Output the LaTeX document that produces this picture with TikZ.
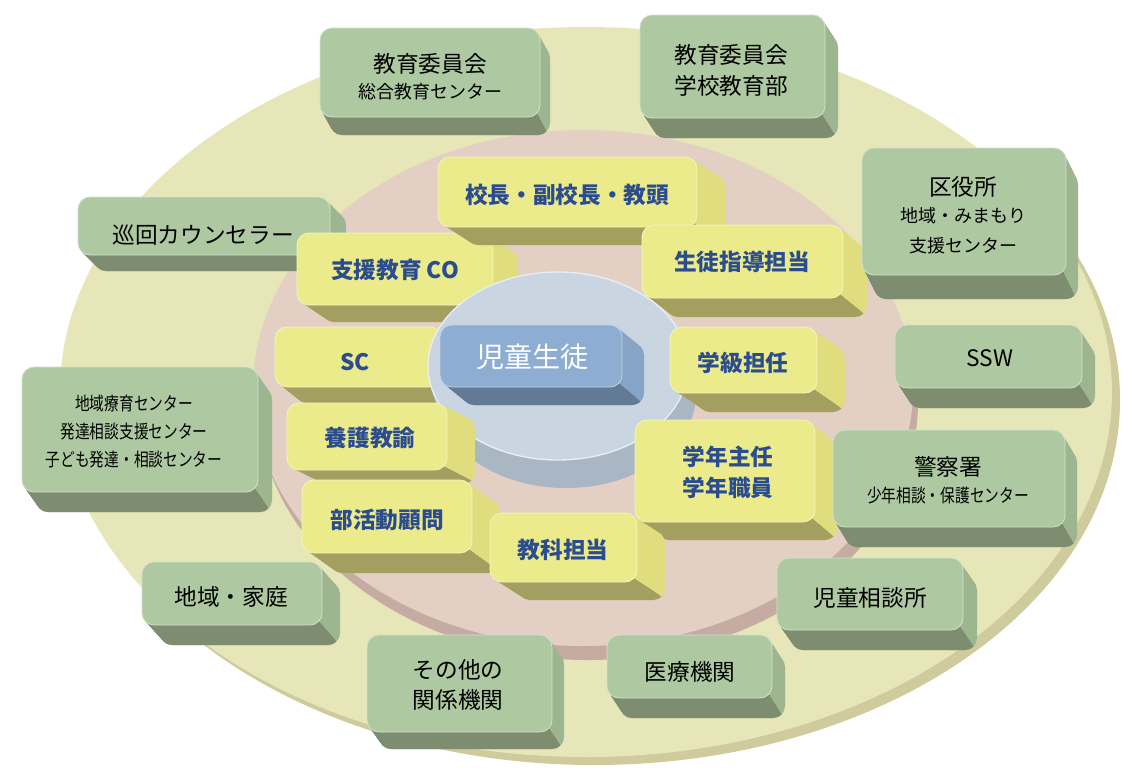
\documentclass[tikz,border=0pt]{standalone}
\usepackage{fontspec}
\setmainfont{Noto Sans CJK JP}
\newfontfamily\condjp[FakeStretch=0.8]{Noto Sans CJK JP}
\definecolor{outerface}{HTML}{E6E6B8}
\definecolor{outerrim}{HTML}{CFCB9C}
\definecolor{pinkface}{HTML}{E3CFC4}
\definecolor{pinkrim}{HTML}{C5ABA2}
\definecolor{cylface}{HTML}{C9D5E1}
\definecolor{cylside}{HTML}{A9B6C3}
\definecolor{gface}{HTML}{AEC9A1}
\definecolor{gmid}{HTML}{9DB690}
\definecolor{gside}{HTML}{7E8D6F}
\definecolor{yface}{HTML}{EBEB8B}
\definecolor{ymid}{HTML}{DFDD7E}
\definecolor{yside}{HTML}{A29F61}
\definecolor{bface}{HTML}{8DADD2}
\definecolor{bmid}{HTML}{86A5C6}
\definecolor{bside}{HTML}{627A95}
\definecolor{ytext}{HTML}{2B4D8F}
% #1 x1, #2 y1, #3 x2, #4 y2, #5 dx, #6 dy, #7 colour prefix
\newcommand{\mykey}[7]{%
  \foreach \i in {0,...,12}{\fill[#7mid, rounded corners=9pt] ({#1+\i*#5/12},{#2+\i*#6/12}) rectangle ({#3+\i*#5/12},{#4+\i*#6/12});}
  \begin{scope}
    \clip ({#1-100},{#4-3.5}) -- ({#3-3.5},{#4-3.5}) -- ({#3-3.5+3*#5},{#4-3.5+3*#6}) -- ({#1-100},{#4-3.5+3*#6}) -- cycle;
    \foreach \i in {0,...,12}{\fill[#7side, rounded corners=9pt] ({#1+\i*#5/12},{#2+\i*#6/12}) rectangle ({#3+\i*#5/12},{#4+\i*#6/12});}
  \end{scope}
  \fill[#7face, draw=#7face!55!white, line width=0.6pt, rounded corners=9pt] (#1,#2) rectangle (#3,#4);
}
\begin{document}
\begin{tikzpicture}[x=0.75pt,y=-0.75pt,
  gbig/.style={text=black, font=\fontsize{17}{20}\selectfont, inner sep=0pt},
  gmidtxt/.style={text=black, font=\fontsize{13.5}{16}\selectfont, inner sep=0pt},
  gsmall/.style={text=black, font=\condjp\fontsize{13.8}{16}\selectfont, inner sep=0pt},
  ytxt/.style={text=ytext, font=\bfseries\fontsize{17}{20}\selectfont, inner sep=0pt},
  btxt/.style={text=white, font=\fontsize{21}{24}\selectfont, inner sep=0pt}]
\useasboundingbox (0,0) rectangle (1123,769);
% outer disk
\fill[outerrim] (594,400) ellipse [x radius=394.5pt, y radius=273.75pt];
\fill[outerface] (586,392) ellipse [x radius=394.5pt, y radius=273.75pt];
% pink disk
\fill[pinkrim] (588,402) ellipse [x radius=247.5pt, y radius=193.5pt];
\fill[pinkface] (583,388) ellipse [x radius=247.5pt, y radius=193.5pt];
% keys behind the cylinder
\mykey{78}{197}{330}{255}{16}{16}{g}
\node[gbig] (junkai) at (203,235) {巡回カウンセラー};
\mykey{297}{233}{493}{305}{25}{17}{y}
\node[ytxt] (shien) at (395,270) {支援教育 CO};
\mykey{275}{327}{442}{387}{20}{16}{y}
\node[ytxt] (sc) at (355,362) {SC};
% cylinder
\foreach \i in {0,...,14}{\fill[cylside] ({558+\i*8/14},{366+\i*28/14}) ellipse [x radius=97.5pt, y radius=70.5pt];}
\fill[cylface, draw=white!60!cylface, line width=1pt] (558,366) ellipse [x radius=97.5pt, y radius=70.5pt];
% centre key
\mykey{440}{325}{622}{387}{22}{18}{b}
\node[btxt] (jido) at (532,357) {児童生徒};
% yellow keys
\mykey{438}{157}{697}{227}{28}{18}{y}
\node[ytxt] (kocho) at (567,195) {校長・副校長・教頭};
\mykey{642}{225}{843}{298}{24}{19}{y}
\node[ytxt] (seito) at (742,262) {生徒指導担当};
\mykey{670}{327}{817}{393}{28}{19}{y}
\node[ytxt] (gakkyu) at (743,363) {学級担任};
\mykey{287}{403}{447}{470}{28}{14}{y}
\node[ytxt] (yogo) at (370,438) {養護教諭};
\mykey{302}{480}{472}{553}{28}{20}{y}
\node[ytxt] (bukatsu) at (387,520) {部活動顧問};
\mykey{635}{420}{815}{522}{22}{18}{y}
\node[ytxt] (gakunenA) at (728,457) {学年主任};
\node[ytxt] (gakunenB) at (728,488) {学年職員};
\mykey{490}{513}{637}{582}{28}{18}{y}
\node[ytxt] (kyoka) at (563,550) {教科担当};
% green keys
\mykey{320}{28}{540}{117}{10}{18}{g}
\node[gbig] (iinA) at (430,64) {教育委員会};
\node[gmidtxt] (iinB) at (430,92) {総合教育センター};
\mykey{640}{15}{825}{118}{13}{20}{g}
\node[gbig] (gakA) at (731,55) {教育委員会};
\node[gbig] (gakB) at (731,86) {学校教育部};
\mykey{862}{148}{1066}{275}{12}{24}{g}
\node[gbig] (kuA) at (963,187) {区役所};
\node[gmidtxt] (kuB) at (963,216) {地域・みまもり};
\node[gmidtxt] (kuC) at (963,246) {支援センター};
\mykey{895}{325}{1082}{388}{13}{20}{g}
\node[gbig] (ssw) at (990,358) {SSW};
\mykey{22}{367}{258}{492}{14}{20}{g}
\node[gsmall] (ryoA) at (134,403) {地域療育センター};
\node[gsmall] (ryoB) at (134,432) {発達相談支援センター};
\node[gsmall] (ryoC) at (134,460) {子ども発達・相談センター};
\mykey{833}{430}{1065}{527}{12}{20}{g}
\node[gbig] (keiA) at (948,467) {警察署};
\node[gsmall] (keiB) at (948,495) {少年相談・保護センター};
\mykey{142}{562}{322}{625}{18}{20}{g}
\node[gbig] (chiiki) at (231,597) {地域・家庭};
\mykey{777}{558}{963}{630}{14}{20}{g}
\node[gbig] (jiso) at (870,598) {児童相談所};
\mykey{367}{635}{552}{732}{12}{17}{g}
\node[gbig] (sonoA) at (458,670) {その他の};
\node[gbig] (sonoB) at (458,700) {関係機関};
\mykey{607}{635}{772}{698}{13}{20}{g}
\node[gbig] (iryo) at (690,672) {医療機関};
\end{tikzpicture}
\end{document}
